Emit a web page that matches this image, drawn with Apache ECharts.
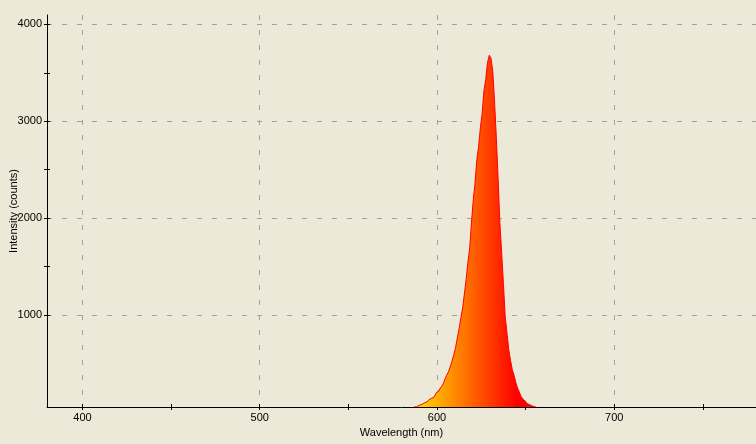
<!DOCTYPE html>
<html>
<head>
<meta charset="utf-8">
<script src="https://cdn.jsdelivr.net/npm/echarts@6/dist/echarts.min.js"></script>
<style>
  html, body { margin: 0; padding: 0; background: #ECE9D8; }
  #chart { width: 756px; height: 444px; }
</style>
</head>
<body>
<div id="chart"></div>
<script>
// wavelength (nm)
const wavelengths = [
  587, 588, 589, 590, 591, 592, 593, 594, 595, 596,
  597, 598, 599, 600, 601, 602, 603, 604, 605, 606,
  607, 608, 609, 610, 611, 612, 613, 614, 615, 616,
  617, 618, 619, 620, 621, 622, 623, 624, 625, 626,
  627, 628, 629, 630, 631, 632, 633, 634, 635, 636,
  637, 638, 639, 640, 641, 642, 643, 644, 645, 646,
  647, 648, 649, 650, 651, 652, 653, 654, 655, 656
];
// intensity (counts)
const counts = [
  52, 55, 61, 70, 78, 86, 95, 105, 116, 128,
  142, 157, 174, 196, 214, 237, 262, 289, 339, 380,
  416, 468, 525, 592, 664, 764, 860, 973, 1076, 1221,
  1376, 1551, 1696, 1960, 2191, 2366, 2605, 2738, 2934, 3078,
  3315, 3429, 3604, 3680, 3650, 3511, 3202, 2830, 2407, 1953,
  1644, 1326, 984, 819, 643, 535, 437, 380, 306, 246,
  205, 158, 132, 112, 91, 78, 65, 59, 55, 52
];

const xLabels = [400, 500, 600, 700];
const xTicks = [400, 450, 500, 550, 600, 650, 700, 750];
const yLabels = [1000, 2000, 3000, 4000];
const yTicks = [1000, 1500, 2000, 2500, 3000, 3500, 4000];

const font = { fontFamily: 'Liberation Sans', fontSize: 11, color: '#000' };
const grid = { color: '#A0A0A0', width: 1, type: [5, 10] };

let chart = echarts.init(document.getElementById('chart'));

let option = {
  backgroundColor: '#ECE9D8',
  animation: false,
  grid: { left: 47, right: 0, top: 15, bottom: 37, outerBoundsMode: 'none' },
  visualMap: {
    type: 'continuous',
    show: false,
    seriesIndex: 0,
    dimension: 0,
    min: 580,
    max: 645,
    inRange: { color: ['#FFFF00', '#FF0000'] },
    outOfRange: { color: '#FF0000' }
  },
  xAxis: [
    {
      type: 'value',
      min: 380,
      max: 780,
      minInterval: 100,
      maxInterval: 100,
      name: 'Wavelength (nm)',
      nameLocation: 'middle',
      nameGap: 20,
      nameMoveOverlap: false,
      nameTextStyle: font,
      axisLine: { lineStyle: { color: '#000', width: 1 } },
      axisTick: { show: false },
      axisLabel: { ...font, margin: 5, customValues: xLabels, formatter: v => String(v) },
      splitLine: { show: true, showMinLine: false, showMaxLine: false, lineStyle: grid }
    },
    {
      //刻度线, 穿过坐标轴
      type: 'value',
      min: 380,
      max: 780,
      position: 'bottom',
      offset: -3,
      axisLine: { show: false },
      axisTick: { length: 6, customValues: xTicks, lineStyle: { color: '#000' } },
      axisLabel: { show: false },
      splitLine: { show: false }
    }
  ],
  yAxis: [
    {
      type: 'value',
      min: 52,
      max: 4096,
      minInterval: 1000,
      maxInterval: 1000,
      name: 'Intensity (counts)',
      nameLocation: 'middle',
      nameGap: 28,
      nameMoveOverlap: false,
      nameTextStyle: font,
      axisLine: { show: true, lineStyle: { color: '#000', width: 1 } },
      axisTick: { show: false },
      axisLabel: { ...font, margin: 5, customValues: yLabels, formatter: v => String(v) },
      splitLine: { show: true, showMinLine: false, showMaxLine: false, lineStyle: grid }
    },
    {
      type: 'value',
      min: 52,
      max: 4096,
      position: 'left',
      offset: -3,
      axisLine: { show: false },
      axisTick: { show: true, length: 6, customValues: yTicks, lineStyle: { color: '#000' } },
      axisLabel: { show: false },
      splitLine: { show: false }
    }
  ],
  series: [
    {
      type: 'line',
      xAxisIndex: 0,
      yAxisIndex: 0,
      data: wavelengths.map((w, i) => [w, counts[i]]),
      step: 'middle',
      symbol: 'none',
      silent: true,
      lineStyle: { color: '#FF0000', width: 1 },
      areaStyle: { opacity: 1, origin: 'start' },
      z: 3
    }
  ]
};

chart.setOption(option);
</script>
</body>
</html>
